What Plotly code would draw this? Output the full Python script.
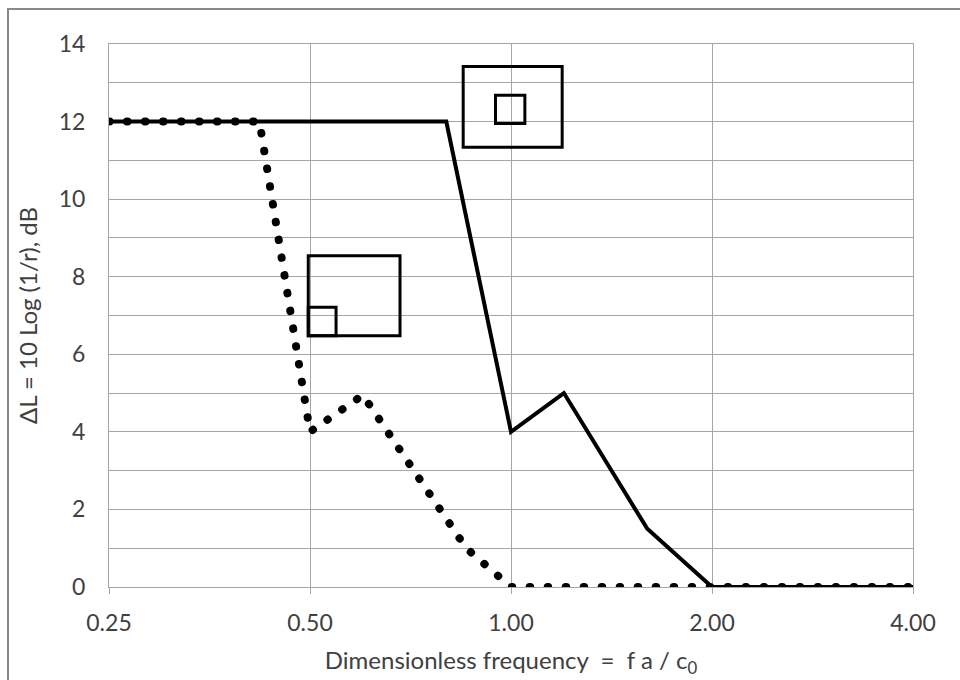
import math
import plotly.graph_objects as go

# ---- data ----
solid_x = [0.25, 0.80, 1.00, 1.20, 1.60, 2.00, 4.00]
solid_y = [12, 12, 4, 5, 1.5, 0, 0]

dotted_x = [0.25, 0.42, 0.50, 0.60, 0.857, 1.00, 4.00]
dotted_y = [12, 12, 4, 4.95, 1.0, 0, 0]

# rectangles drawn on the chart: (x0, x1, y0, y1)
box_upper_outer = (0.848, 1.193, 11.34, 13.42)
box_upper_inner = (0.948, 1.049, 11.95, 12.68)
box_lower_outer = (0.497, 0.682, 6.48, 8.54)
box_lower_inner = (0.497, 0.547, 6.48, 7.21)

x_tick_vals = [0.25, 0.5, 1.0, 2.0, 4.0]
x_tick_text = ["0.25", "0.50", "1.00", "2.00", "4.00"]
y_tick_vals = [0, 2, 4, 6, 8, 10, 12, 14]

x_title = "Dimensionless frequency  =  f a / c<sub>0</sub>"
y_title = "ΔL = 10 Log (1/r), dB"

# ---- figure ----
GRID = "#a6a6a6"
TEXT = "#404040"
FONT = "Lato"

fig = go.Figure()

fig.add_trace(go.Scatter(
    x=dotted_x, y=dotted_y, mode="lines",
    line=dict(color="black", width=8, dash="0.5px,17.5px"),
    hoverinfo="skip", showlegend=False))

fig.add_trace(go.Scatter(
    x=solid_x, y=solid_y, mode="lines",
    line=dict(color="black", width=4),
    hoverinfo="skip", showlegend=False))

for (x0, x1, y0, y1) in [box_upper_outer, box_upper_inner, box_lower_outer, box_lower_inner]:
    fig.add_trace(go.Scatter(
        x=[x0, x1, x1, x0, x0, x1], y=[y1, y1, y0, y0, y1, y1], mode="lines",
        line=dict(color="black", width=3),
        hoverinfo="skip", showlegend=False))

fig.update_layout(
    width=960, height=680,
    margin=dict(l=109, r=47, t=44, b=93),
    paper_bgcolor="white", plot_bgcolor="white",
    font=dict(family=FONT, size=23, color=TEXT),
    hovermode=False,
    showlegend=False,
    xaxis=dict(
        type="log",
        range=[math.log10(0.25), math.log10(4.0)],
        tickvals=x_tick_vals, ticktext=x_tick_text,
        showgrid=True, gridcolor=GRID, gridwidth=1,
        showline=True, linecolor=GRID, linewidth=1, mirror=True,
        ticks="outside", ticklen=6, tickcolor=GRID, tickwidth=1,
        ticklabelstandoff=9,
        tickfont=dict(size=23, color=TEXT),
        zeroline=False,
        title=dict(text=x_title, font=dict(size=24, color=TEXT), standoff=17),
    ),
    yaxis=dict(
        range=[0, 14],
        tickvals=y_tick_vals,
        showgrid=True, gridcolor=GRID, gridwidth=1,
        minor=dict(dtick=1, showgrid=True, gridcolor=GRID, gridwidth=1),
        showline=True, linecolor=GRID, linewidth=1, mirror=True,
        ticks="", ticklabelstandoff=18,
        tickfont=dict(size=23, color=TEXT),
        zeroline=False,
        title=dict(text=y_title, font=dict(size=24, color=TEXT), standoff=14),
    ),
    shapes=[dict(
        type="rect", xref="paper", yref="paper",
        x0=(8 - 109) / 804, x1=(970 - 109) / 804,
        y0=(587 - 690) / 543, y1=(587 - 9) / 543,
        line=dict(color="#898989", width=2), fillcolor="rgba(0,0,0,0)",
        layer="below")],
)

post = """
document.documentElement.style.margin = '0';
document.documentElement.style.padding = '0';
document.body.style.margin = '0';
document.body.style.padding = '0';
var gd = document.getElementById('{plot_id}');
function roundDots(){
  gd.querySelectorAll('path.js-line').forEach(function(p){
    var s = p.style.strokeDasharray;
    if (s && s !== 'none') { p.style.strokeLinecap = 'round'; }
  });
}
roundDots();
if (gd.on) { gd.on('plotly_afterplot', roundDots); }
"""

fig.write_html("out.html", post_script=post, config=dict(displayModeBar=False, staticPlot=True))
